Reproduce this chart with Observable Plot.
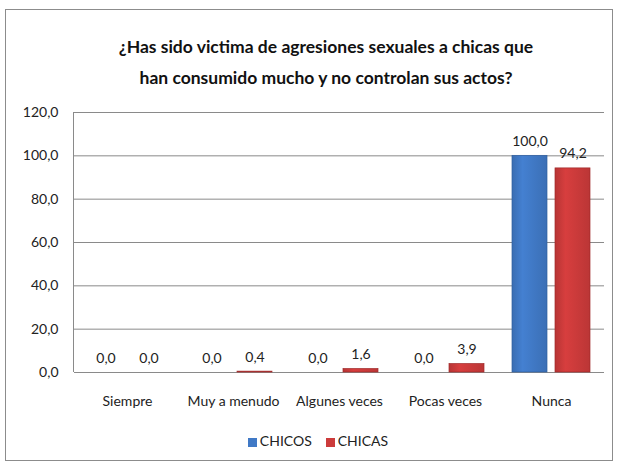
<!DOCTYPE html>
<html><head><meta charset="utf-8">
<script src="https://cdn.jsdelivr.net/npm/d3@7"></script>
<script src="https://cdn.jsdelivr.net/npm/@observablehq/plot@0.6"></script>
<style>
body{margin:0;background:#fff;font-family:Lato,"Open Sans",sans-serif;}
#wrap{position:relative;width:619px;height:468px;overflow:hidden;}
#frame{position:absolute;left:5px;top:9px;width:608px;height:452px;border:1.5px solid #8c8c8c;box-sizing:border-box;}
#title{position:absolute;left:0;width:652px;top:31px;text-align:center;font-weight:bold;font-size:17.5px;line-height:31px;color:#111;}
#chart{position:absolute;left:0;top:0;}
#legend{position:absolute;left:0;width:636px;top:432px;text-align:center;font-size:14px;color:#222;}
#legend span.sw{display:inline-block;width:9px;height:9px;margin-right:3px;vertical-align:-1px;}
#legend span.it{margin:0 7px;}
</style></head><body>
<div id="wrap">
<div id="frame"></div>
<div id="title">¿Has sido victima de agresiones sexuales a chicas que<br>han consumido mucho y no controlan sus actos?</div>
<div id="chart"></div>
<div id="legend"></div>
</div>
<script>
const categories = ["Siempre","Muy a menudo","Algunes veces","Pocas veces","Nunca"];
const series = ["CHICOS","CHICAS"];
const chicos = [0.0, 0.0, 0.0, 0.0, 100.0];
const chicas = [0.0, 0.4, 1.6, 3.9, 94.2];
const yTicks = [0,20,40,60,80,100,120];
const colors = ["#4079c6","#cc3b3b"];
const gradIds = ["url(#gBlue)","url(#gRed)"];

const data = [];
categories.forEach((c,i)=>{
  data.push({cat:c, s:"CHICOS", v:chicos[i]});
  data.push({cat:c, s:"CHICAS", v:chicas[i]});
});
const fmt = v => v.toFixed(1).replace(".",",");

const plot = Plot.plot({
  width:619, height:468,
  marginLeft:73, marginRight:14, marginTop:112, marginBottom:96,
  style:{fontFamily:"Lato, 'Open Sans', sans-serif", fontSize:"14px", color:"#222", background:"transparent"},
  fx:{domain:categories, padding:0, label:null, axis:null},
  x:{domain:series, paddingInner:0.18, paddingOuter:0.3, axis:null},
  y:{domain:[0,120], ticks:yTicks, label:null},
  color:{domain:series, range:gradIds},
  marks:[
    Plot.gridY(yTicks,{stroke:"#8a8a8a", strokeOpacity:1, strokeWidth:1}),
    Plot.axisY(yTicks,{tickSize:0, tickPadding:16, tickFormat:fmt, fontSize:14, fill:"#222", label:null}),
    Plot.axisFx({anchor:"bottom", tickSize:0, tickPadding:24, fontSize:14, fill:"#222", label:null}),
    Plot.barY(data,{fx:"cat", x:"s", y:"v", fill:d=>d.s, stroke:d=>d.s==="CHICOS"?"#2f5f9f":"#a02a2a", strokeWidth:0.7}),
    Plot.text(data,{fx:"cat", x:"s", y:"v", text:d=>fmt(d.v), dy:-10, lineAnchor:"bottom", fontSize:14, fill:"#222"})
  ]
});
document.getElementById("chart").appendChild(plot);

const svg = d3.select(plot);
const defs = svg.insert("defs",":first-child");
function grad(id, c){
  const g = defs.append("linearGradient").attr("id",id).attr("x1","0").attr("x2","1").attr("y1","0").attr("y2","0");
  const base = d3.color(c);
  g.append("stop").attr("offset","0%").attr("stop-color",base.darker(0.3));
  g.append("stop").attr("offset","30%").attr("stop-color",base.brighter(0.15));
  g.append("stop").attr("offset","100%").attr("stop-color",base.darker(0.25));
}
grad("gBlue",colors[0]); grad("gRed",colors[1]);

// left axis line of the plot area
const yS = plot.scale("y");
svg.append("line")
  .attr("x1",73.5).attr("x2",73.5)
  .attr("y1",yS.apply(120)).attr("y2",yS.apply(0))
  .attr("stroke","#8a8a8a");

const lg = document.getElementById("legend");
series.forEach((s,i)=>{
  const it = document.createElement("span"); it.className="it";
  const sw = document.createElement("span"); sw.className="sw"; sw.style.background=colors[i];
  it.appendChild(sw); it.appendChild(document.createTextNode(s));
  lg.appendChild(it);
});
</script>
</body></html>
